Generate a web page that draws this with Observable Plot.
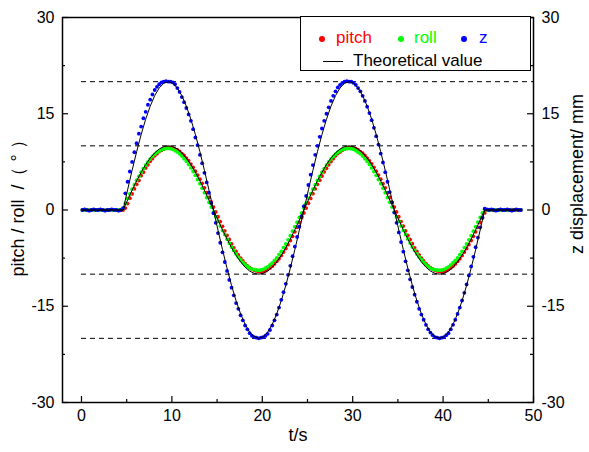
<!DOCTYPE html>
<html><head><meta charset="utf-8">
<script src="https://cdn.jsdelivr.net/npm/d3@7"></script>
<script src="https://cdn.jsdelivr.net/npm/@observablehq/plot@0.6"></script>
<style>
body{margin:0;background:#fff;}
#wrap{position:relative;width:589px;height:452px;font-family:"Liberation Sans",Arial,sans-serif;}
#legend{position:absolute;left:300px;top:16px;width:231px;height:55px;border:1px solid #000;background:#fff;box-sizing:border-box;font-size:17px;}
#legend .dot{position:absolute;width:6px;height:6px;border-radius:50%;}
#legend .lbl{position:absolute;line-height:20px;white-space:nowrap;}
#legend .ln{position:absolute;height:1px;background:#000;}
</style></head>
<body>
<div id="wrap">
<div id="chart"></div>
<div id="legend">
  <div class="dot" style="left:18px;top:19px;background:#ff0000"></div><div class="lbl" style="left:35px;top:11px;color:#ff0000">pitch</div>
  <div class="dot" style="left:97px;top:19px;background:#00ff00"></div><div class="lbl" style="left:113px;top:11px;color:#00ff00">roll</div>
  <div class="dot" style="left:160px;top:19px;background:#0000ff"></div><div class="lbl" style="left:178px;top:11px;color:#0000ff">z</div>
  <div class="ln" style="left:22px;top:44px;width:20px"></div><div class="lbl" style="left:52px;top:34px;color:#000">Theoretical value</div>
</div>
</div>
<script>
const xTicks = [0, 10, 20, 30, 40, 50];
const xMinor = [5, 15, 25, 35, 45];
const yTicks = [-30, -15, 0, 15, 30];
const yMinor = [-22.5, -7.5, 7.5, 22.5];
const refLevels = [-20, -10, 10, 20];

// measured samples: t = 0.1 + 0.25*i
const tStart = 0.1, tStep = 0.25;
const pitch = [
 0,0.05,0,-0.05,0,0.05,0,0,0.05,0,-0.05,0,0,0.05,0,0,-0.05,0,
 0,0.3,1.0,1.85,2.5,3.3,4.0,4.6,5.35,5.9,6.55,7.05,7.6,8.0,8.45,8.75,9.1,9.3,9.5,9.6,9.7,
 9.7,9.65,9.5,9.35,9.15,8.8,8.5,8.1,7.7,7.15,6.65,6.05,5.45,4.8,4.15,3.45,2.7,1.95,1.25,0.45,
 -0.3,-1.05,-1.8,-2.55,-3.25,-3.95,-4.6,-5.3,-5.9,-6.45,-7.0,-7.5,-7.95,-8.35,-8.7,-9.0,-9.2,-9.4,-9.5,-9.6,
 -9.6,-9.55,-9.45,-9.25,-9.05,-8.75,-8.4,-8.0,-7.6,-7.1,-6.55,-6.0,-5.4,-4.75,-4.1,-3.4,-2.7,-1.95,-1.2,-0.45,
 0.3,1.05,1.8,2.55,3.3,4.0,4.65,5.3,5.95,6.5,7.05,7.55,8.0,8.45,8.8,9.05,9.3,9.5,9.6,9.7,
 9.7,9.65,9.55,9.35,9.1,8.85,8.5,8.1,7.65,7.2,6.65,6.05,5.45,4.8,4.1,3.45,2.7,1.95,1.2,0.45,
 -0.3,-1.05,-1.8,-2.5,-3.25,-3.95,-4.6,-5.25,-5.9,-6.45,-7.0,-7.5,-7.95,-8.35,-8.7,-9.0,-9.2,-9.4,-9.5,-9.6,
 -9.6,-9.55,-9.45,-9.25,-9.05,-8.75,-8.4,-8.0,-7.6,-7.1,-6.55,-6.0,-5.4,-4.75,-4.1,-3.4,-2.7,-1.95,-1.2,-0.45,
 0,0.05,0,-0.05,0,0,0.05,0,0,-0.05,0,0.05,0,0,0,0
];
const roll = [
 0,0,0.05,0,-0.05,0,0,0.05,0,0,-0.05,0,0.05,0,0,-0.05,0,0.05,
 0.3,1.05,1.8,2.5,3.25,3.95,4.65,5.25,5.9,6.45,7.0,7.5,7.95,8.35,8.7,9.0,9.2,9.4,9.5,9.6,9.6,
 9.55,9.45,9.25,9.05,8.75,8.4,8.0,7.6,7.1,6.55,6.0,5.4,4.75,4.1,3.4,2.7,1.95,1.2,0.45,-0.3,
 -1.05,-1.75,-2.5,-3.2,-3.85,-4.55,-5.15,-5.75,-6.3,-6.85,-7.35,-7.75,-8.15,-8.5,-8.8,-9.05,-9.2,-9.3,-9.35,-9.4,
 -9.35,-9.25,-9.05,-8.85,-8.55,-8.25,-7.85,-7.45,-6.95,-6.45,-5.85,-5.3,-4.65,-4.0,-3.3,-2.6,-1.9,-1.15,-0.45,0.3,
 1.05,1.8,2.55,3.25,3.95,4.6,5.25,5.9,6.45,7.0,7.5,7.95,8.35,8.7,9.0,9.2,9.4,9.5,9.55,9.6,
 9.55,9.45,9.25,9.0,8.75,8.4,8.0,7.6,7.1,6.55,6.0,5.4,4.75,4.1,3.4,2.7,1.95,1.2,0.45,-0.3,
 -1.05,-1.75,-2.5,-3.2,-3.85,-4.5,-5.15,-5.75,-6.3,-6.85,-7.3,-7.75,-8.15,-8.5,-8.8,-9.05,-9.2,-9.3,-9.35,-9.4,
 -9.35,-9.25,-9.05,-8.85,-8.55,-8.2,-7.85,-7.45,-6.95,-6.45,-5.85,-5.3,-4.65,-4.0,-3.3,-2.6,-1.9,-1.15,-0.45,0.1,
 0.05,0,0,0.05,0,-0.05,0,0,0.05,0,0,-0.05,0,0.05,0,0
];
const zDisp = [
 0,0.1,0,-0.1,0,0.1,0,0,0.1,0,-0.1,0,0,0.1,0,0,-0.1,0,
 0.3,2.6,4.4,6.0,7.5,9.0,10.4,11.9,13.0,14.3,15.3,16.4,17.2,18.0,18.7,19.2,19.6,19.9,20.0,20.1,20.0,
 20.0,19.9,19.6,19.0,18.4,17.6,16.8,15.9,14.9,13.9,12.6,11.3,10.1,8.6,7.3,5.8,4.3,2.7,1.1,-0.5,
 -2.0,-3.6,-5.1,-6.6,-8.1,-9.5,-10.9,-12.1,-13.3,-14.5,-15.4,-16.4,-17.2,-18.0,-18.6,-19.2,-19.6,-19.8,-19.9,-20.0,
 -19.9,-19.8,-19.6,-19.3,-18.7,-18.0,-17.2,-16.3,-15.2,-14.0,-12.8,-11.5,-10.1,-8.7,-7.2,-5.7,-4.2,-2.6,-1.0,0.6,
 2.2,3.9,5.5,7.0,8.6,10.0,11.4,12.7,13.9,15.0,16.0,17.0,17.8,18.5,19.1,19.5,19.8,20.0,20.1,20.0,
 20.0,19.8,19.5,19.0,18.5,17.8,17.0,16.1,15.1,14.0,12.8,11.5,10.2,8.8,7.4,5.9,4.4,2.8,1.2,-0.4,
 -2.0,-3.5,-5.0,-6.5,-8.0,-9.4,-10.8,-12.0,-13.2,-14.3,-15.4,-16.3,-17.1,-17.9,-18.6,-19.1,-19.5,-19.8,-19.9,-20.0,
 -19.9,-19.8,-19.5,-19.2,-18.6,-17.9,-17.1,-16.2,-15.2,-14.1,-12.9,-11.6,-10.2,-8.8,-7.3,-5.8,-4.3,-2.7,-1.2,0.2,
 0.1,0,0.1,0,-0.1,0,0.1,0,0,0.1,0,-0.1,0,0.1,0,0
];

// theoretical samples: t = 0.1 + 0.5*i
const thStart = 0.1, thStep = 0.5;
const theoAngle = [
 0,0,0,0,0,0,0,0,0,
 0,1.56,3.09,4.54,5.88,7.07,8.09,8.91,9.51,9.88,10,9.88,9.51,8.91,8.09,7.07,5.88,4.54,3.09,1.56,
 0,-1.56,-3.09,-4.54,-5.88,-7.07,-8.09,-8.91,-9.51,-9.88,-10,-9.88,-9.51,-8.91,-8.09,-7.07,-5.88,-4.54,-3.09,-1.56,
 0,1.56,3.09,4.54,5.88,7.07,8.09,8.91,9.51,9.88,10,9.88,9.51,8.91,8.09,7.07,5.88,4.54,3.09,1.56,
 0,-1.56,-3.09,-4.54,-5.88,-7.07,-8.09,-8.91,-9.51,-9.88,-10,-9.88,-9.51,-8.91,-8.09,-7.07,-5.88,-4.54,-3.09,-1.56,
 0,0,0,0,0,0,0,0,0
];
const theoZ = [
 0,0,0,0,0,0,0,0,0,
 0,3.13,6.18,9.08,11.76,14.14,16.18,17.82,19.02,19.75,20,19.75,19.02,17.82,16.18,14.14,11.76,9.08,6.18,3.13,
 0,-3.13,-6.18,-9.08,-11.76,-14.14,-16.18,-17.82,-19.02,-19.75,-20,-19.75,-19.02,-17.82,-16.18,-14.14,-11.76,-9.08,-6.18,-3.13,
 0,3.13,6.18,9.08,11.76,14.14,16.18,17.82,19.02,19.75,20,19.75,19.02,17.82,16.18,14.14,11.76,9.08,6.18,3.13,
 0,-3.13,-6.18,-9.08,-11.76,-14.14,-16.18,-17.82,-19.02,-19.75,-20,-19.75,-19.02,-17.82,-16.18,-14.14,-11.76,-9.08,-6.18,-3.13,
 0,0,0,0,0,0,0,0,0
];

const meas = pitch.map((p, i) => ({t: tStart + i * tStep, pitch: p, roll: roll[i], z: zDisp[i]}));
const theo = theoAngle.map((a, i) => ({t: thStart + i * thStep, a, z: theoZ[i]}));

const W = 589, H = 452, mL = 62, mR = 56, mT = 17, mB = 50;
const pw = W - mL - mR, ph = H - mT - mB;
const fmt = d => String(d);

const chart = Plot.plot({
  width: W, height: H,
  marginLeft: mL, marginRight: mR, marginTop: mT, marginBottom: mB,
  x: {domain: [-2.1, 50]},
  y: {domain: [-30, 30]},
  style: {fontFamily: '"Liberation Sans", Arial, sans-serif', fontSize: "16px", background: "#fff", color: "#000"},
  marks: [
    Plot.ruleY(refLevels, {x1: 0, x2: 50, stroke: "#000", strokeWidth: 1, strokeDasharray: "5,4"}),
    Plot.dot(meas, {x: "t", y: "pitch", r: 1.9, fill: "#ff0000"}),
    Plot.dot(meas, {x: "t", y: "roll", r: 1.9, fill: "#00ff00"}),
    Plot.dot(meas, {x: "t", y: "z", r: 1.9, fill: "#0000ff"}),
    Plot.line(theo, {x: "t", y: "a", stroke: "#000", strokeWidth: 1}),
    Plot.line(theo, {x: "t", y: "z", stroke: "#000", strokeWidth: 1}),
    Plot.tickX(xTicks, {x: d => d, insetTop: ph - 6, stroke: "#000", strokeWidth: 1.2}),
    Plot.tickX(xMinor, {x: d => d, insetTop: ph - 3, stroke: "#000", strokeWidth: 1.2}),
    Plot.tickY(yTicks, {y: d => d, insetRight: pw - 6, stroke: "#000", strokeWidth: 1.2}),
    Plot.tickY(yMinor, {y: d => d, insetRight: pw - 3, stroke: "#000", strokeWidth: 1.2}),
    Plot.tickY(yTicks, {y: d => d, insetLeft: pw - 6, stroke: "#000", strokeWidth: 1.2}),
    Plot.tickY(yMinor, {y: d => d, insetLeft: pw - 3, stroke: "#000", strokeWidth: 1.2}),
    Plot.frame({stroke: "#000", strokeWidth: 1.5}),
    Plot.axisX({ticks: xTicks, tickSize: 0, tickPadding: 7, tickFormat: fmt, label: null, fontSize: 16}),
    Plot.axisY({anchor: "left", ticks: yTicks, tickSize: 0, tickPadding: 8, tickFormat: fmt, label: null, fontSize: 16}),
    Plot.axisY({anchor: "right", ticks: yTicks, tickSize: 0, tickPadding: 8, tickFormat: fmt, label: null, fontSize: 16}),
    Plot.text(["t/s"], {frameAnchor: "bottom", dy: 38, fontSize: 18}),
    Plot.text(["pitch / roll  /（ ° ）"], {frameAnchor: "left", textAnchor: "middle", rotate: -90, dx: -44, dy: -6, fontSize: 18}),
    Plot.text(["z displacement/ mm"], {frameAnchor: "right", textAnchor: "middle", rotate: -90, dx: 44, dy: -36, fontSize: 18})
  ]
});
document.getElementById("chart").appendChild(chart);
</script>
</body></html>
